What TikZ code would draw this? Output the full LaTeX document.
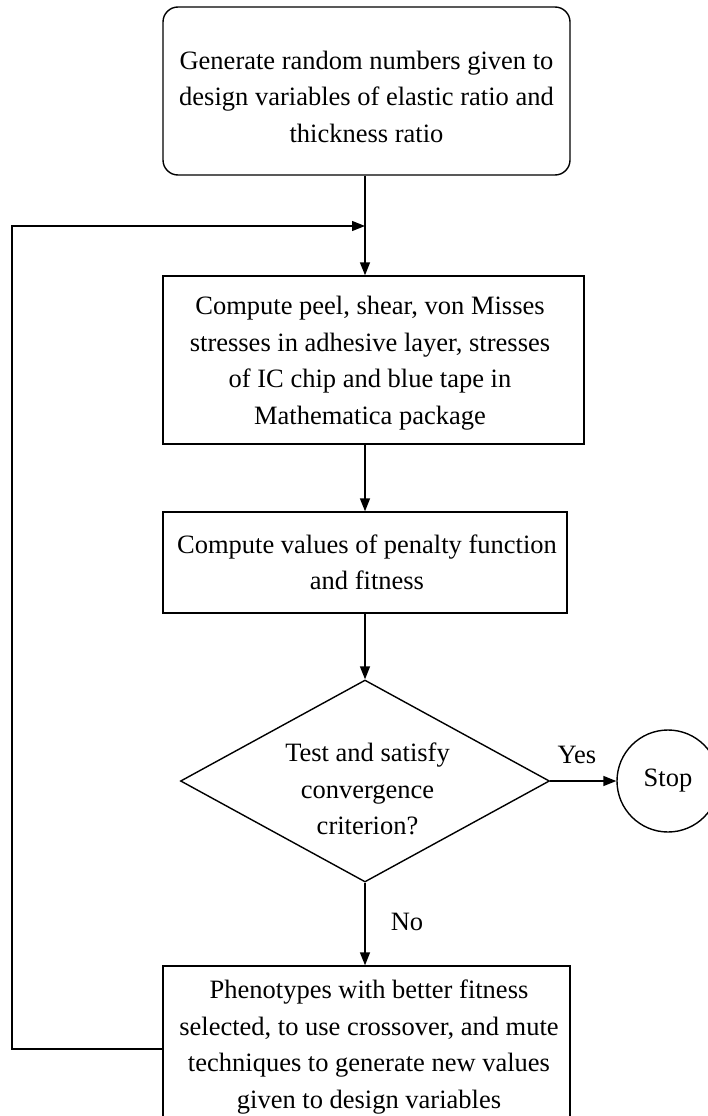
\documentclass[tikz,border=0pt]{standalone}
\usepackage{fontspec}
\setmainfont{Liberation Serif}
\usetikzlibrary{shapes.geometric,arrows.meta}
\begin{document}
\begin{tikzpicture}[x=1pt,y=-1pt,
  line width=1.4pt,
  box/.style={draw, rectangle, inner sep=0pt},
  txt/.style={align=center, inner sep=0pt, font=\fontsize{26.5}{36.5}\selectfont},
  arr/.style={-{Triangle[length=13pt,width=10pt]}}]
\useasboundingbox (0,0) rectangle (708,1116);
% boxes
\node[box, minimum width=407pt, minimum height=168pt, rounded corners=15pt] (b1) at (366.5,91) {};
\node[box, minimum width=421pt, minimum height=168pt] (b2) at (373.5,360) {};
\node[box, minimum width=404pt, minimum height=101pt] (b3) at (365,562.5) {};
\node[draw, diamond, inner sep=0pt, minimum width=369pt, minimum height=202pt] (d) at (365,781) {};
\node[draw, circle, inner sep=0pt, minimum size=102pt, font=\fontsize{26.5}{36.5}\selectfont] (stop) at (668,781) {Stop};
\node[box, minimum width=407pt, minimum height=166pt] (b4) at (366.5,1049) {};
% texts
\node[txt] (t1) at (366.5,96.5) {Generate random numbers given to\\design variables of elastic ratio and\\thickness ratio};
\node[txt] (t2) at (370,363) {Compute peel, shear, von Misses\\stresses in adhesive layer, stresses\\of IC chip and blue tape in\\Mathematica package};
\node[txt] (t3) at (367,562.5) {Compute values of penalty function\\and fitness};
\node[txt] (t4) at (367.5,789) {Test and satisfy\\convergence\\criterion?};
\node[txt] (t5) at (369,1047) {Phenotypes with better fitness\\selected, to use crossover, and mute\\techniques to generate new values\\given to design variables};
\node[txt] (yes) at (577,755) {Yes};
\node[txt] (no) at (407,922) {No};
% connectors
\draw[arr] (b1.south -| d.north) -- (b2.north -| d.north);
\draw[arr] (b2.south -| d.north) -- (b3.north -| d.north);
\draw[arr] (b3.south -| d.north) -- (d.north);
\draw[arr] (d.south) -- (b4.north -| d.south);
\draw[arr] (d.east) -- (stop.west);
\coordinate (fbc) at (12,226);
\coordinate (jn) at (365,226);
\draw[arr] (b4.west) -| (fbc) -- (jn);
\end{tikzpicture}
\end{document}
